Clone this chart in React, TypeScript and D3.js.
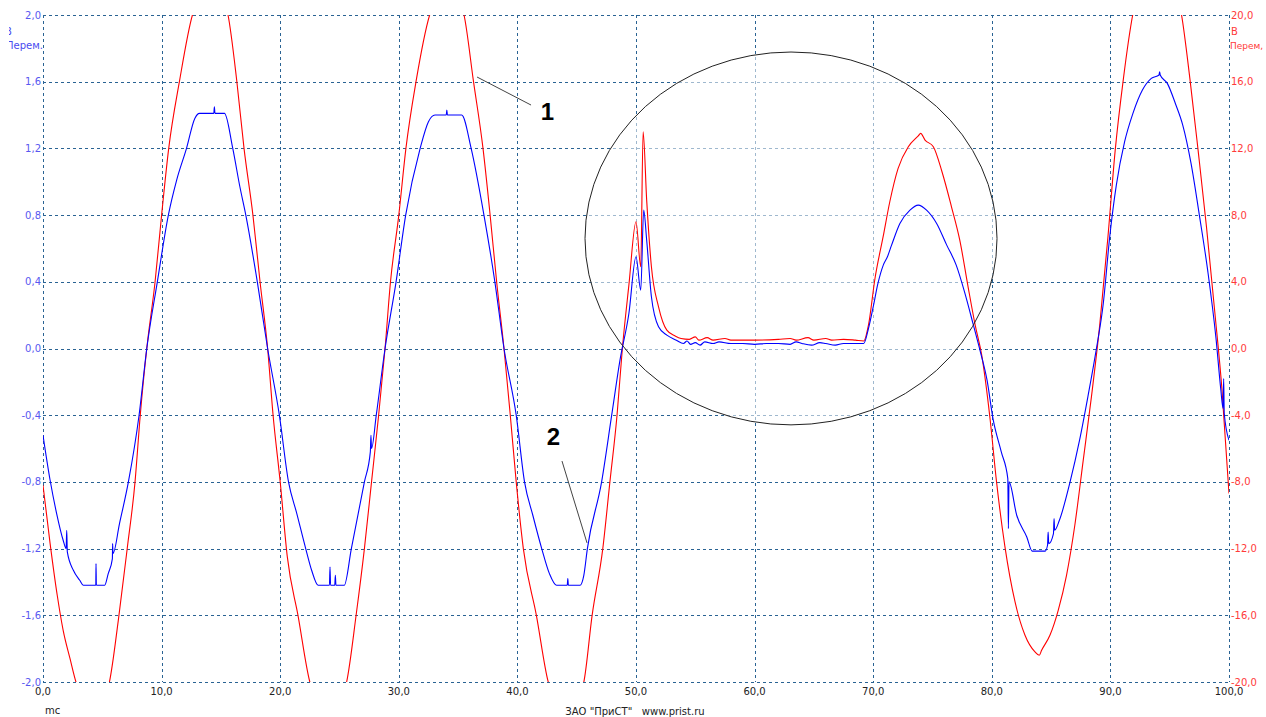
import { useEffect } from 'react'
import * as d3 from 'd3'

// time in ms, channel 2 (blue, left axis, В)
const blueTrace: [number, number][] = [
  [0, -0.52], [0.6, -0.79], [1.15, -0.99], [1.7, -1.15], [1.95, -1.2], [2.0, -1.09], [2.05, -1.22],
  [2.56, -1.33], [3.1, -1.39], [3.4, -1.42], [4.45, -1.42], [4.47, -1.29], [4.5, -1.42], [5.2, -1.42],
  [5.5, -1.35], [5.85, -1.26], [5.87, -1.17], [5.9, -1.23], [6.45, -1.05], [7.2, -0.8], [8.1, -0.4],
  [8.75, 0], [9.64, 0.4], [10.57, 0.8], [11.27, 1.01], [12.1, 1.2], [12.8, 1.38], [13.2, 1.41],
  [14.4, 1.41], [14.45, 1.45], [14.5, 1.41], [15.3, 1.41], [16.0, 1.2], [16.6, 0.97], [17.1, 0.8],
  [18.07, 0.4], [18.94, 0], [19.93, -0.4], [20.7, -0.8], [21.4, -0.99], [22.15, -1.2], [22.65, -1.33],
  [23.2, -1.42], [24.15, -1.42], [24.2, -1.31], [24.25, -1.42], [24.6, -1.42], [24.65, -1.36],
  [24.7, -1.42], [25.4, -1.42], [26.0, -1.2], [27.1, -0.8], [27.6, -0.62], [27.65, -0.52], [27.7, -0.6],
  [28.1, -0.4], [28.84, 0], [29.77, 0.4], [30.58, 0.8], [31.8, 1.2], [32.5, 1.36], [33.05, 1.4],
  [34.0, 1.4], [34.05, 1.43], [34.1, 1.4], [35.3, 1.4], [36.1, 1.2], [37.18, 0.8], [38.1, 0.4],
  [38.87, 0], [39.9, -0.4], [40.6, -0.8], [41.3, -1.0], [42.05, -1.2], [42.7, -1.35], [43.3, -1.42],
  [44.2, -1.42], [44.25, -1.38], [44.3, -1.42], [45.28, -1.42], [45.6, -1.36], [45.9, -1.2],
  [47.1, -0.8], [47.95, -0.4], [48.65, -0.07], [49.4, 0.21], [50.0, 0.55], [50.4, 0.35], [50.65, 0.83],
  [50.9, 0.65], [51.3, 0.31], [51.9, 0.13], [52.6, 0.08], [53.4, 0.05], [54, 0.03], [54.3, 0.045],
  [54.6, 0.025], [55, 0.035], [55.4, 0.02], [55.8, 0.04], [56.5, 0.03], [57, 0.04], [58, 0.03],
  [59, 0.03], [60, 0.025], [61, 0.03], [62, 0.03], [63, 0.025], [63.5, 0.04], [64, 0.03], [64.8, 0.02],
  [65.5, 0.035], [66, 0.03], [66.8, 0.02], [67.5, 0.03], [68.5, 0.03], [69.2, 0.03], [69.6, 0.12],
  [70.0, 0.25], [70.4, 0.39], [70.85, 0.5], [71.2, 0.55], [71.55, 0.62], [72.25, 0.75], [73.1, 0.83],
  [73.8, 0.86], [74.5, 0.83], [75.35, 0.75], [76.2, 0.62], [77.0, 0.5], [77.7, 0.34], [78.45, 0.14],
  [79.0, -0.01], [79.6, -0.19], [80.1, -0.42], [80.8, -0.62], [81.35, -0.78], [81.4, -1.08],
  [81.45, -0.8], [82.1, -1.0], [82.95, -1.13], [83.4, -1.215], [84.5, -1.215], [84.7, -1.18],
  [84.75, -1.1], [84.8, -1.17], [85.2, -1.11], [85.25, -1.02], [85.3, -1.09], [85.7, -1.03],
  [86.6, -0.8], [87.4, -0.55], [88.1, -0.29], [88.8, -0.01], [89.4, 0.27], [89.95, 0.675], [90.5, 0.98],
  [91.2, 1.24], [91.9, 1.41], [92.7, 1.55], [93.45, 1.62], [94.1, 1.64], [94.15, 1.66], [94.2, 1.64],
  [94.8, 1.59], [95.5, 1.465], [96.1, 1.34], [96.8, 1.11], [97.5, 0.8], [98.2, 0.47], [98.9, 0.064],
  [99.3, -0.24], [99.5, -0.36], [99.55, -0.18], [99.6, -0.39], [100, -0.55],
]

// time in ms, channel 1 (red, right axis, В)
const redTrace: [number, number][] = [
  [0, -8.2], [0.6, -11.7], [1.2, -14.8], [1.7, -16.9], [2.28, -18.6], [2.78, -20], [3.5, -21.2],
  [4.2, -21.5], [4.9, -21.2], [5.6, -20], [6.35, -16.3], [7.1, -12], [7.76, -8], [8.2, -4], [8.75, 0],
  [9.45, 4], [10.0, 8], [10.6, 12], [11.5, 16], [12.6, 20], [13.5, 21.3], [14.2, 21.6], [14.9, 21.3],
  [15.6, 20], [16.33, 16.1], [16.95, 12], [17.7, 8], [18.3, 4], [18.94, 0], [19.4, -4], [20.0, -8],
  [20.6, -12.5], [21.5, -16], [22.5, -20], [23.3, -21.3], [24.0, -21.6], [24.8, -21.3], [25.6, -20],
  [26.4, -16], [27.1, -12], [27.7, -8], [28.3, -4], [28.84, 0], [29.3, 4], [30.0, 8], [30.6, 12],
  [31.45, 16], [32.6, 20], [33.4, 21.3], [34.05, 21.6], [34.7, 21.3], [35.5, 20], [36.3, 16],
  [37.1, 12], [37.7, 8], [38.25, 4], [38.87, 0], [39.4, -4], [39.9, -8], [40.5, -12], [41.6, -16],
  [42.6, -20], [43.4, -21.3], [44.1, -21.6], [44.8, -21.3], [45.6, -20], [46.3, -16], [47.2, -12],
  [47.8, -8], [48.4, -4], [48.85, 0], [49.4, 3.8], [50.0, 7.6], [50.4, 4.9], [50.6, 13.0], [50.9, 8.9],
  [51.3, 4.9], [51.9, 2.5], [52.6, 1.1], [53.3, 0.75], [53.8, 0.6], [54.5, 0.55], [55, 0.7], [55.3, 0.5],
  [56, 0.65], [56.5, 0.5], [57.5, 0.6], [58, 0.5], [60, 0.5], [62, 0.55], [63, 0.6], [63.5, 0.5],
  [64.5, 0.65], [65, 0.5], [66, 0.6], [66.5, 0.5], [67.5, 0.55], [68.5, 0.5], [69.2, 0.45],
  [69.6, 1.4], [70.15, 4.2], [70.85, 6.75], [71.4, 8.8], [72.1, 10.8], [72.96, 12.1], [73.8, 12.75],
  [74.0, 12.9], [74.37, 12.5], [75.07, 12.1], [75.8, 10.6], [76.6, 8.5], [77.3, 6.5], [78.0, 3.7],
  [78.6, 1.4], [79.15, -0.4], [79.85, -4.2], [80.4, -8.0], [81.1, -11.85], [81.96, -15.2], [82.8, -17.2],
  [83.64, -18.2], [84.0, -18.4], [84.2, -18.1], [84.9, -17.2], [85.6, -15.7], [86.3, -13.6],
  [87.0, -10.6], [87.7, -6.75], [88.4, -2.9], [89.1, 1.4], [89.8, 6.75], [90.4, 11.85], [91.1, 16.2],
  [91.88, 20], [93, 22.5], [94, 23.2], [95, 22.5], [96.0, 20], [96.7, 16.2], [97.4, 11.85], [98.1, 7.3],
  [98.8, 2.2], [99.4, -2.4], [100, -8.7],
]

const timeTicks = [0, 10, 20, 30, 40, 50, 60, 70, 80, 90, 100]
const leftTicks = [-2, -1.6, -1.2, -0.8, -0.4, 0, 0.4, 0.8, 1.2, 1.6, 2]
const rightTicks = [-20, -16, -12, -8, -4, 0, 4, 8, 12, 16, 20]

// annotations in data units (ms, left axis)
const callouts = [
  { label: '1', t: 42.54, v: 1.37, from: [36.6, 1.628], to: [41.15, 1.46] },
  { label: '2', t: 43.04, v: -0.579, from: [43.76, -0.675], to: [45.87, -1.166] },
]
const highlight = { t: 63.07, v: 0.66, dt: 17.37, dv: 1.118 }

const W = 1266
const H = 717
const left = 43
const right = 1229
const top = 15
const bottom = 682

const fmt = (v: number) => d3.format('.1f')(v).replace('.', ',').replace('−', '-')

export default function App() {
  useEffect(() => {
    document.body.style.margin = '0'
  }, [])

  const x = d3.scaleLinear().domain([0, 100]).range([left, right])
  const yL = d3.scaleLinear().domain([-2, 2]).range([bottom, top])
  const yR = d3.scaleLinear().domain([-20, 20]).range([bottom, top])

  const blueLine = d3.line<[number, number]>().x(d => x(d[0])).y(d => yL(d[1])).curve(d3.curveMonotoneX)
  const redLine = d3.line<[number, number]>().x(d => x(d[0])).y(d => yR(d[1])).curve(d3.curveMonotoneX)

  const gridColor = '#2a6393'
  const font = 'DejaVu Sans, Verdana, sans-serif'

  const ex = x(highlight.t)
  const ey = yL(highlight.v)
  const erx = x(highlight.dt) - x(0)
  const ery = yL(0) - yL(highlight.dv)

  return (
    <svg width={W} height={H} style={{ display: 'block', background: '#fff' }}>
      <defs>
        <clipPath id="plot">
          <rect x={left} y={top} width={right - left} height={bottom - top} />
        </clipPath>
        <clipPath id="leftTitle">
          <rect x={9} y={0} width={40} height={60} />
        </clipPath>
      </defs>

      {/* grid */}
      <g stroke={gridColor} strokeWidth={1} strokeDasharray="3,3" shapeRendering="crispEdges">
        {timeTicks.map(t => (
          <line key={'v' + t} x1={Math.round(x(t)) + 0.5} x2={Math.round(x(t)) + 0.5} y1={top} y2={bottom} />
        ))}
        {leftTicks.map(v => (
          <line key={'h' + v} x1={left} x2={right} y1={Math.round(yL(v)) + 0.5} y2={Math.round(yL(v)) + 0.5} />
        ))}
      </g>

      {/* highlighted region */}
      <ellipse cx={ex} cy={ey} rx={erx} ry={ery} fill="#ffffff" fillOpacity={0.55} stroke="none" />

      <g clipPath="url(#plot)" fill="none" strokeWidth={1.1} strokeLinejoin="round">
        <path d={redLine(redTrace) ?? ''} stroke="#ff0000" />
        <path d={blueLine(blueTrace) ?? ''} stroke="#0000ff" />
      </g>

      <ellipse cx={ex} cy={ey} rx={erx} ry={ery} fill="none" stroke="#222" strokeWidth={1} />

      {callouts.map(c => (
        <g key={c.label}>
          <line
            x1={x(c.from[0])} y1={yL(c.from[1])} x2={x(c.to[0])} y2={yL(c.to[1])}
            stroke="#444" strokeWidth={1}
          />
          <text
            x={x(c.t)} y={yL(c.v)} textAnchor="middle"
            fontFamily="Liberation Sans, Arial, sans-serif" fontWeight="bold" fontSize={24} fill="#000"
          >
            {c.label}
          </text>
        </g>
      ))}

      {/* left axis labels */}
      <g fontFamily={font} fontSize={10} fill="#5858f0" textAnchor="end">
        {leftTicks.map(v => (
          <text key={v} x={41} y={yL(v)} dy="0.35em">{fmt(v)}</text>
        ))}
      </g>
      <g fontFamily={font} fontSize={10} fill="#4a4af0" clipPath="url(#leftTitle)">
        <text x={5} y={35}>В</text>
        <text x={6} y={49}>Перем.</text>
      </g>

      {/* right axis labels */}
      <g fontFamily={font} fontSize={10} fill="#ff3a3a">
        {rightTicks.map(v => (
          <text key={v} x={1231} y={yR(v)} dy="0.35em">{fmt(v)}</text>
        ))}
        <text x={1231} y={35}>В</text>
        <text x={1230} y={49} fontSize={9}>Перем,</text>
      </g>

      {/* time axis */}
      <g fontFamily={font} fontSize={10} fill="#222" textAnchor="middle">
        {timeTicks.map(t => (
          <text key={t} x={x(t)} y={695}>{fmt(t)}</text>
        ))}
      </g>
      <text x={45} y={714} fontFamily={font} fontSize={10} fill="#222">mc</text>
      <text x={635} y={715} fontFamily={font} fontSize={10} fill="#222" textAnchor="middle" style={{ whiteSpace: 'pre' }}>
        {'ЗАО "ПриСТ"   www.prist.ru'}
      </text>
    </svg>
  )
}
